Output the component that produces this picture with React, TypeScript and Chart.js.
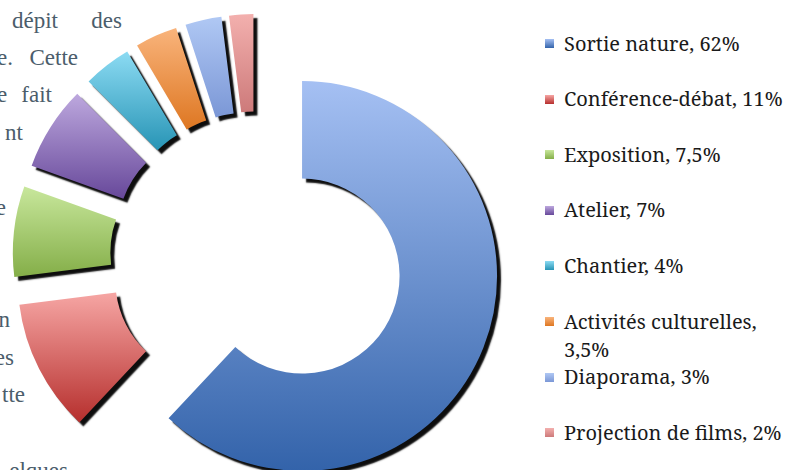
import React, { useEffect, useRef } from 'react';
import { Chart, registerables } from 'chart.js';

Chart.register(...registerables);

// ---- data ----
const categories = [
  'Sortie nature',
  'Conférence-débat',
  'Exposition',
  'Atelier',
  'Chantier',
  'Activités culturelles',
  'Diaporama',
  'Projection de films',
];
const values = [62, 11, 7.5, 7, 4, 3.5, 3, 2];

// gradient colours (top -> bottom) for each slice
const colorsTop = ['#a5c0f3', '#f6a6a4', '#c8e79c', '#bda8de', '#8cdbf3', '#f9b47c', '#b0c8f4', '#f3b0ae'];
const colorsBottom = ['#3363aa', '#b62f2d', '#84ae48', '#67489a', '#2794b5', '#de7722', '#7b97d6', '#cd7a7a'];

// fragments of the surrounding document paragraph
const docWordsLeft = [
  { text: 'dépit', x: 12, baseline: 28 },
  { text: 'e.', x: -3, baseline: 65 },
  { text: 'e', x: -3, baseline: 102 },
];
const docWordsRight = [
  { text: 'des', x: 122, baseline: 28 },
  { text: 'Cette', x: 78, baseline: 65 },
  { text: 'fait', x: 52, baseline: 102 },
  { text: 'nt', x: 23, baseline: 140 },
  { text: 'e', x: 6, baseline: 215 },
  { text: 'n', x: 10, baseline: 327 },
  { text: 'es', x: 14, baseline: 365 },
  { text: 'tte', x: 25, baseline: 402 },
  { text: 'elques', x: 68, baseline: 478 },
];

const fmt = (v: number) => String(v).replace('.', ',') + '%';

const EXPLODE = 49;
const CANVAS_W = 513;
const CANVAS_H = 516;

const explodePlugin = {
  id: 'explodeShadow',
  beforeDatasetDraw(chart: any, args: any) {
    const ctx = chart.ctx;
    const meta = args.meta;
    meta.data.forEach((arc: any, i: number) => {
      const { x, y, startAngle, endAngle, innerRadius, outerRadius } = arc;
      const mid = (startAngle + endAngle) / 2;
      const dx = Math.cos(mid) * EXPLODE;
      const dy = Math.sin(mid) * EXPLODE;
      let minY = Infinity;
      let maxY = -Infinity;
      const n = 60;
      for (let k = 0; k <= n; k++) {
        const a = startAngle + ((endAngle - startAngle) * k) / n;
        for (const r of [innerRadius, outerRadius]) {
          const py = y + Math.sin(a) * r;
          if (py < minY) minY = py;
          if (py > maxY) maxY = py;
        }
      }
      const grad = ctx.createLinearGradient(0, minY, 0, maxY);
      grad.addColorStop(0, colorsTop[i % colorsTop.length]);
      grad.addColorStop(1, colorsBottom[i % colorsBottom.length]);
      ctx.save();
      ctx.translate(dx, dy);
      ctx.shadowColor = 'rgba(0,0,0,0.95)';
      ctx.shadowOffsetX = 4;
      ctx.shadowOffsetY = 4;
      ctx.shadowBlur = 1.5;
      const opts = arc.options;
      const saved = opts.backgroundColor;
      try {
        opts.backgroundColor = grad;
      } catch (e) {
        /* ignore */
      }
      arc.draw(ctx);
      try {
        opts.backgroundColor = saved;
      } catch (e) {
        /* ignore */
      }
      ctx.restore();
    });
    return false;
  },
};

function App() {
  const canvasRef = useRef<HTMLCanvasElement | null>(null);

  useEffect(() => {
    const canvas = canvasRef.current;
    if (!canvas) return;
    const chart = new Chart(canvas, {
      type: 'doughnut',
      data: {
        labels: categories,
        datasets: [
          {
            data: values,
            backgroundColor: colorsBottom,
            borderWidth: 0,
          },
        ],
      },
      options: {
        responsive: false,
        animation: false,
        events: [],
        radius: 195,
        cutout: '50%',
        layout: { padding: 0 },
        plugins: {
          legend: { display: false },
          tooltip: { enabled: false },
        },
      },
      plugins: [explodePlugin],
    } as any);
    return () => chart.destroy();
  }, []);

  const docFont = '"Liberation Serif", serif';
  const legendFont = '"Noto Serif", "Liberation Serif", serif';

  return (
    <div
      style={{
        position: 'fixed',
        left: 0,
        top: 0,
        width: 788,
        height: 470,
        overflow: 'hidden',
        background: '#ffffff',
      }}
    >
      {docWordsLeft.map((w, i) => (
        <span
          key={'l' + i}
          style={{
            position: 'absolute',
            left: w.x,
            top: w.baseline - 19.3,
            fontFamily: docFont,
            fontSize: 23,
            lineHeight: '23px',
            color: '#4b5d6b',
            whiteSpace: 'nowrap',
          }}
        >
          {w.text}
        </span>
      ))}
      {docWordsRight.map((w, i) => (
        <span
          key={'r' + i}
          style={{
            position: 'absolute',
            right: 788 - w.x,
            top: w.baseline - 19.3,
            fontFamily: docFont,
            fontSize: 23,
            lineHeight: '23px',
            color: '#4b5d6b',
            whiteSpace: 'nowrap',
          }}
        >
          {w.text}
        </span>
      ))}
      <canvas
        ref={canvasRef}
        width={CANVAS_W}
        height={CANVAS_H}
        style={{ position: 'absolute', left: 0, top: 0, width: CANVAS_W, height: CANVAS_H }}
      />
      {categories.map((c, i) => {
        const center = 43.5 + 55.6 * i;
        return (
          <div key={'lg' + i}>
            <div
              style={{
                position: 'absolute',
                left: 545,
                top: center - 4.5,
                width: 9,
                height: 9,
                background: `linear-gradient(${colorsTop[i]}, ${colorsBottom[i]})`,
              }}
            />
            <div
              style={{
                position: 'absolute',
                left: 564,
                top: center - 14,
                width: 228,
                fontFamily: legendFont,
                fontSize: 20,
                lineHeight: '28px',
                color: '#1a1a1a',
              }}
            >
              {c + ', ' + fmt(values[i])}
            </div>
          </div>
        );
      })}
    </div>
  );
}

export default App;
